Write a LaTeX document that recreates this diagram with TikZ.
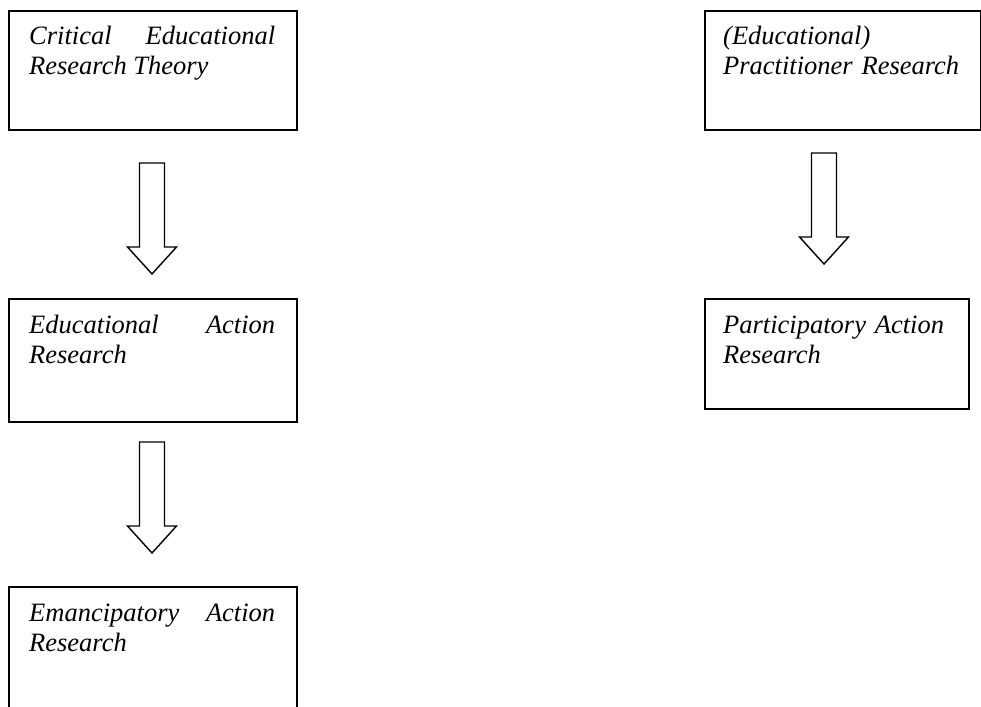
\documentclass[tikz,border=0pt]{standalone}
\usepackage{fontspec}
\setmainfont{Liberation Serif}
\begin{document}
\begin{tikzpicture}[x=1pt, y=-1pt,
  frame/.style={draw, line width=2pt, inner sep=0pt, anchor=north west},
  label/.style={anchor=base west, inner sep=0pt, align=justify,
    font=\fontsize{26.5}{30}\selectfont\itshape},
  blockarrow/.pic={
    \draw[line width=1.4pt, line join=miter]
      (-12.5,0) -- (12.5,0) -- (12.5,84) -- (24.5,84) -- (0,111)
      -- (-24.5,84) -- (-12.5,84) -- cycle;
  }]
  % page area
  \clip (0,0) rectangle (981,706);
  \fill[white] (0,0) rectangle (981,706);

  % left column
  \node[frame, minimum width=288pt, minimum height=119pt] (b1) at (8,10) {};
  \node[label, text width=246pt] (t1) at (29,45)
    {Critical Educational\linebreak Research Theory};
  \pic at (152,163) {blockarrow};

  \node[frame, minimum width=288pt, minimum height=123pt] (b3) at (8,298) {};
  \node[label, text width=246pt] (t3) at (29,333)
    {Educational Action\linebreak Research};
  \pic at (152,442) {blockarrow};

  \node[frame, minimum width=288pt, minimum height=140pt] (b5) at (8,586) {};
  \node[label, text width=246pt] (t5) at (29,621)
    {Emancipatory Action\linebreak Research};

  % right column
  \node[frame, minimum width=276pt, minimum height=119pt] (b2) at (704,10) {};
  \node[label, text width=240pt, align=left] (t2) at (723,45)
    {(Educational)\\Practitioner Research};
  \pic at (824,153) {blockarrow};

  \node[frame, minimum width=264pt, minimum height=110pt] (b4) at (704,298) {};
  \node[label, text width=240pt, align=left] (t4) at (723,333)
    {Participatory Action\\Research};
\end{tikzpicture}
\end{document}
